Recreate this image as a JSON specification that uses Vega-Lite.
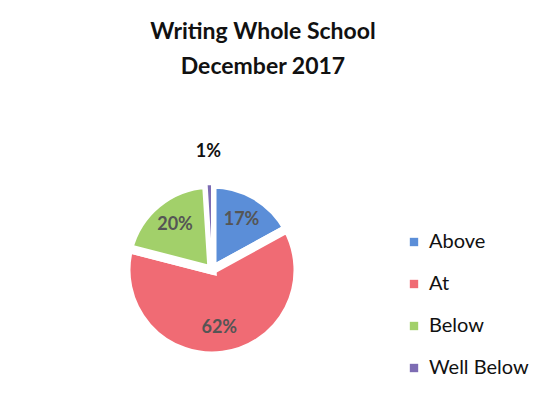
{
  "$schema": "https://vega.github.io/schema/vega-lite/v6.json",
  "autosize": "none",
  "width": 200,
  "height": 200,
  "padding": {"left": 112, "top": 170, "right": 244, "bottom": 27},
  "background": "white",
  "title": {
    "text": ["Writing Whole School", "December 2017"],
    "anchor": "middle",
    "frame": "group",
    "dx": 51,
    "offset": 64,
    "font": "Lato",
    "fontSize": 23,
    "fontWeight": "bold",
    "color": "#111111",
    "lineHeight": 35
  },
  "data": {
    "values": [
      {"category": "Above", "value": 17, "label": "17%"},
      {"category": "At", "value": 62, "label": "62%"},
      {"category": "Below", "value": 20, "label": "20%"},
      {"category": "Well Below", "value": 1, "label": "1%"}
    ]
  },
  "encoding": {
    "theta": {"field": "value", "type": "quantitative", "stack": true},
    "detail": {"field": "category", "type": "nominal"},
    "order": {"field": "category", "type": "nominal", "sort": "ascending"},
    "color": {
      "field": "category",
      "type": "nominal",
      "scale": {
        "domain": ["Above", "At", "Below", "Well Below"],
        "range": ["#5b8ed8", "#f06b74", "#a2d06a", "#7d6cb3"]
      },
      "legend": {
        "title": null,
        "orient": "none",
        "legendX": 292,
        "legendY": 62,
        "symbolType": "square",
        "symbolSize": 70,
        "symbolStrokeWidth": 0,
        "labelFont": "Lato",
        "labelFontSize": 20,
        "labelColor": "#111111",
        "rowPadding": 22,
        "labelOffset": 5
      }
    }
  },
  "layer": [
    {
      "mark": {"type": "arc", "radius": 86, "stroke": "white"},
      "encoding": {
        "strokeWidth": {"condition": {"test": "datum.category == 'Well Below'", "value": 2}, "value": 9}
      }
    },
    {
      "mark": {"type": "text", "radius": 58, "font": "Lato", "fontSize": 18, "fontWeight": "bold"},
      "encoding": {
        "text": {"condition": {"test": "datum.category != 'Well Below'", "field": "label"}, "value": ""},
        "color": {"value": "#555555"}
      }
    },
    {
      "mark": {"type": "text", "radius": 118, "font": "Lato", "fontSize": 18, "fontWeight": "bold"},
      "encoding": {
        "text": {"condition": {"test": "datum.category == 'Well Below'", "field": "label"}, "value": ""},
        "color": {"value": "#111111"}
      }
    }
  ]
}
